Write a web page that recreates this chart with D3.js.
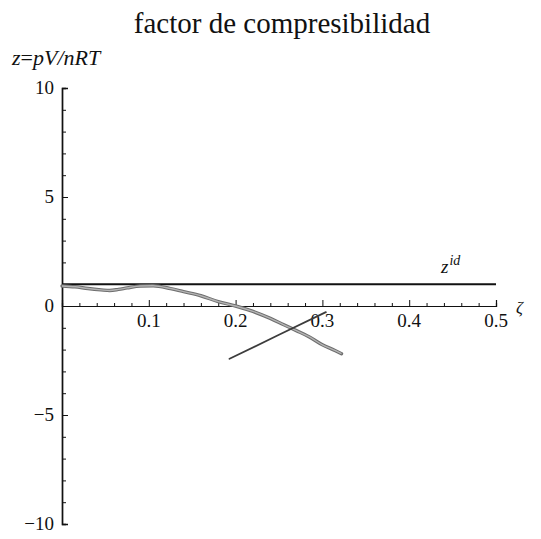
<!DOCTYPE html>
<html>
<head>
<meta charset="utf-8">
<script src="https://cdn.jsdelivr.net/npm/d3@7"></script>
<style>
  html, body { margin: 0; padding: 0; background: #fff; }
  svg { display: block; }
</style>
</head>
<body>
<svg id="chart" width="541" height="539"></svg>
<script>
// Compressibility factor z = pV/nRT against packing fraction ζ
const title = "factor de compresibilidad";

// Ideal gas reference, z = 1
const idealZeta = [0, 0.5];
const idealZ = [1, 1];

// Model curve (grey band)
const curveZeta = [0.000, 0.015, 0.030, 0.045, 0.055, 0.065, 0.075, 0.090, 0.105, 0.125,
                   0.140, 0.160, 0.180, 0.200, 0.220, 0.240, 0.255, 0.270, 0.285, 0.300,
                   0.315, 0.322];
const curveZ    = [0.92, 0.88, 0.80, 0.74, 0.71, 0.76, 0.83, 0.92, 0.93, 0.80,
                   0.66, 0.47, 0.20, 0.00, -0.25, -0.57, -0.85, -1.13, -1.42, -1.78,
                   -2.05, -2.19];

// Second (dark) branch
const branchZeta = [0.193, 0.250, 0.304];
const branchZ    = [-2.42, -1.32, -0.28];

// Axis ticks
const xMajor = [0.1, 0.2, 0.3, 0.4, 0.5];
const xMinor = [0.02, 0.04, 0.06, 0.08, 0.12, 0.14, 0.16, 0.18, 0.22, 0.24, 0.26, 0.28,
                0.32, 0.34, 0.36, 0.38, 0.42, 0.44, 0.46, 0.48];
const yMajor = [-10, -5, 0, 5, 10];
const yMinor = [-9, -8, -7, -6, -4, -3, -2, -1, 1, 2, 3, 4, 6, 7, 8, 9];

const SERIF = "'Liberation Serif', 'Times New Roman', Times, serif";

const svg = d3.select("#chart");

const x = d3.scaleLinear().domain([0, 0.5]).range([62, 496]);
const y = d3.scaleLinear().domain([-10, 10]).range([524, 88]);

function label(sel) {
  return sel.style("font-family", SERIF).style("fill", "#111");
}

// Title
label(svg.append("text"))
  .attr("x", 282).attr("y", 33)
  .attr("text-anchor", "middle")
  .style("font-size", "29px")
  .text(title);

// y-axis label
const yl = label(svg.append("text"))
  .attr("x", 12).attr("y", 65)
  .style("font-size", "22px")
  .style("font-style", "italic");
yl.append("tspan").text("z");
yl.append("tspan").style("font-style", "normal").text("=");
yl.append("tspan").text("pV");
yl.append("tspan").text("/");
yl.append("tspan").text("nRT");

// y axis: ticks pointing right
const yAxisMajor = d3.axisRight(y).tickValues(yMajor).tickSize(6).tickFormat("");
const yAxisMinor = d3.axisRight(y).tickValues(yMinor).tickSize(4).tickFormat("");
const gy = svg.append("g").attr("transform", `translate(${x(0)},0)`);
gy.call(yAxisMinor);
gy.append("g").call(yAxisMajor);
gy.selectAll("path.domain").attr("stroke", "#111").attr("stroke-width", 1.4);
gy.selectAll(".tick line").attr("stroke", "#111").attr("stroke-width", 1);

label(svg.append("g").selectAll("text.ylab")
  .data(yMajor).join("text"))
  .attr("x", 54)
  .attr("y", d => y(d) + 6)
  .attr("text-anchor", "end")
  .style("font-size", "19px")
  .text(d => d < 0 ? "\u2212" + Math.abs(d) : String(d));

// x axis: ticks pointing up
const xAxisMajor = d3.axisTop(x).tickValues(xMajor).tickSize(6).tickFormat("");
const xAxisMinor = d3.axisTop(x).tickValues(xMinor).tickSize(3).tickFormat("");
const gx = svg.append("g").attr("transform", `translate(0,${y(0)})`);
gx.call(xAxisMinor);
gx.append("g").call(xAxisMajor);
gx.selectAll("path.domain").attr("stroke", "#111").attr("stroke-width", 1.2);
gx.selectAll(".tick line").attr("stroke", "#111").attr("stroke-width", 1);

label(svg.append("g").selectAll("text.xlab")
  .data(xMajor).join("text"))
  .attr("x", d => x(d))
  .attr("y", y(0) + 21)
  .attr("text-anchor", "middle")
  .style("font-size", "19px")
  .text(d => d3.format(".1f")(d));

// Axis symbol ζ
label(svg.append("text"))
  .attr("x", 516).attr("y", 313)
  .style("font-size", "17px")
  .style("font-style", "italic")
  .text("ζ");

const line = d3.line().x(d => x(d[0])).y(d => y(d[1]));

// Ideal gas line
svg.append("path")
  .datum(d3.zip(idealZeta, idealZ))
  .attr("d", line)
  .attr("fill", "none")
  .attr("stroke", "#111")
  .attr("stroke-width", 2);

const zl = label(svg.append("text"))
  .attr("x", 441).attr("y", 273)
  .style("font-size", "19px")
  .style("font-style", "italic")
  .text("z");
zl.append("tspan").attr("dy", -8).attr("dx", 1).style("font-size", "14px").text("id");

// Model curve: grey band with darker edges
const smooth = d3.line().x(d => x(d[0])).y(d => y(d[1])).curve(d3.curveMonotoneX);
const curve = d3.zip(curveZeta, curveZ);
svg.append("path").datum(curve).attr("d", smooth)
  .attr("fill", "none").attr("stroke", "#6e6e6e").attr("stroke-width", 3.4)
  .attr("stroke-linejoin", "round").attr("stroke-linecap", "round");
svg.append("path").datum(curve).attr("d", smooth)
  .attr("fill", "none").attr("stroke", "#b4b4b4").attr("stroke-width", 1.4)
  .attr("stroke-linejoin", "round");

// Dark branch
svg.append("path")
  .datum(d3.zip(branchZeta, branchZ))
  .attr("d", line)
  .attr("fill", "none")
  .attr("stroke", "#3c3c3c")
  .attr("stroke-width", 1.8)
  .attr("stroke-linecap", "round");
</script>
</body>
</html>
